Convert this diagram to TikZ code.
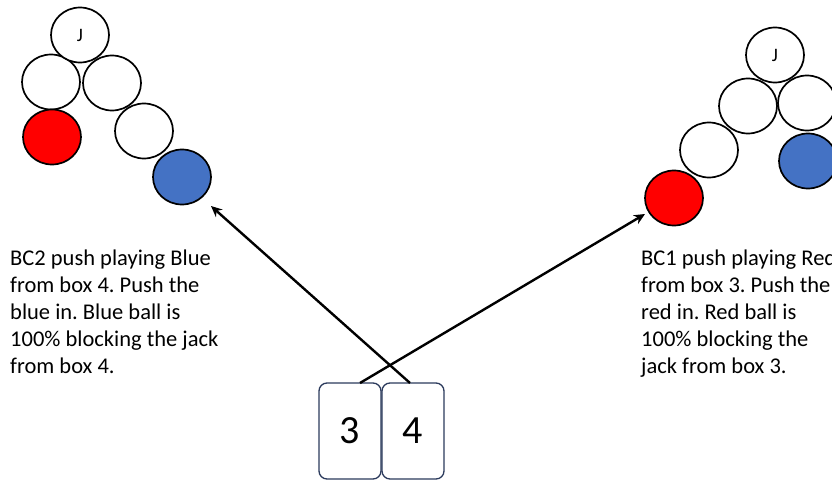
\documentclass[tikz,border=0pt]{standalone}
\usepackage{fontspec}
\setmainfont{Carlito}
\usetikzlibrary{arrows.meta,shapes.geometric}
\definecolor{ballblue}{HTML}{4472C4}
\definecolor{boxline}{HTML}{2B3A5C}
\frenchspacing
\begin{document}
\begin{tikzpicture}[x=1pt,y=-1pt,
  ball/.style={draw=black,line width=1.7pt,ellipse,minimum width=58pt,minimum height=55pt,inner sep=0pt,fill=white},
  jackball/.style={ball,font=\fontsize{19}{21}\selectfont},
  redball/.style={ball,fill=red},
  blueball/.style={ball,fill=ballblue},
  boxcard/.style={draw=boxline,line width=1.3pt,rounded corners=8pt,minimum width=62pt,minimum height=96pt,inner sep=0pt,fill=white,font=\fontsize{40}{44}\selectfont},
  note/.style={align=left,anchor=north west,inner sep=0pt,font=\fontsize{22.5}{27}\selectfont},
  push/.style={line width=2.4pt,-{Stealth[length=11pt,width=10pt]}}]
\useasboundingbox (0,0) rectangle (832,479);

% left head: jack with blue pushed in
\node[ball] (l1) at (51,82) {};
\node[ball] (l2) at (112,83) {};
\node[jackball] (lj) at (80,35) {J};
\node[redball] (lr) at (52,137) {};
\node[ball] (l3) at (144,131) {};
\node[blueball] (lb) at (182,177) {};

% right head: jack with red pushed in
\node[ball] (r1) at (748,106) {};
\node[ball] (r2) at (807,103) {};
\node[jackball] (rj) at (775,55) {J};
\node[ball] (r3) at (709,150) {};
\node[redball] (rr) at (674,198) {};
\node[blueball] (rb) at (808,161) {};

% notes
\node[note] (nl) at (10,250) {BC2 push playing Blue\\from box 4. Push the\\blue in. Blue ball is\\100\% blocking the jack\\from box 4.};
\node[note] (nr) at (641,250) {BC1 push playing Red\\from box 3. Push the\\red in. Red ball is\\100\% blocking the\\jack from box 3.};

% mat boxes
\node[boxcard] (b3) at (350,431) {3};
\node[boxcard] (b4) at (413,431) {4};

% arrow ends
\coordinate (s3) at (360,383);
\coordinate (s4) at (410,383);
\coordinate (t3) at (645,214);
\coordinate (t4) at (211,206);

\draw[push] (s4) -- (t4);
\draw[push] (s3) -- (t3);
\end{tikzpicture}
\end{document}
